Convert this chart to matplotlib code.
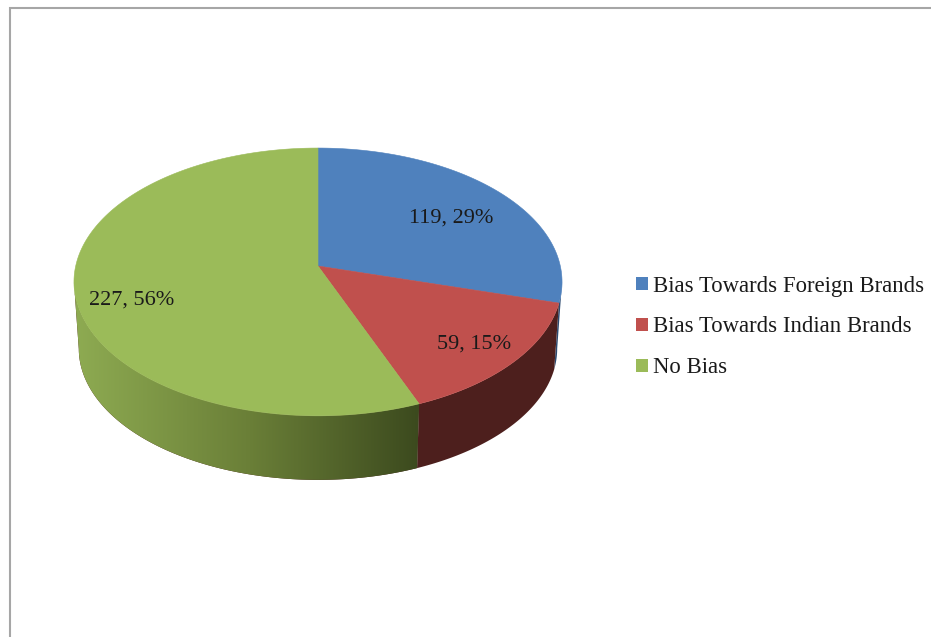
import numpy as np
import matplotlib
matplotlib.use('Agg')
import matplotlib.pyplot as plt
from matplotlib.colors import LinearSegmentedColormap
from matplotlib.patches import Patch, Polygon

labels = ['Bias Towards Foreign Brands', 'Bias Towards Indian Brands', 'No Bias']
values = [119, 59, 227]
top_colors = ['#4f81bd', '#c0504d', '#9bbb59']
side_colors = ['#2c4a70', '#4d1f1d', '#4d1f1d']
green_side = ['#8eab52', '#6b8038', '#3c4a1e']

plt.rcParams['font.family'] = ['Liberation Serif', 'DejaVu Serif']

total = sum(values)
# clockwise from 12 o'clock
edges = 2 * np.pi * np.cumsum([0] + values) / total


# perspective of a flat disc, angle measured clockwise from the top
def project(theta, cx=318, cy=266, a=242.3, b=132, k=0.119):
    x = np.sin(theta)
    y = -np.cos(theta)
    d = 1 - k * y
    return cx + a * x / d, cy + b * y / d


def arc(t0, t1, **kw):
    t = np.linspace(t0, t1, 200)
    return np.column_stack(project(t, **kw))


floor = dict(cy=333, a=237.5, b=129.4)

fig = plt.figure(figsize=(9.31, 6.37), dpi=100)
ax = fig.add_axes([0, 0, 1, 1])
ax.set_xlim(0, 931)
ax.set_ylim(637, 0)
ax.axis('off')

# frame, only top and left show
ax.plot([10, 10, 931], [637, 8, 8], color='#a6a6a6', lw=1.5, solid_joinstyle='miter')

# side walls, from the right silhouette round to the left one
ends = [(1.69, edges[1]), (edges[1], edges[2]), (edges[2], 4.59)]
for i, (t0, t1) in enumerate(ends):
    wall = np.vstack([arc(t0, t1), arc(t0, t1, **floor)[::-1]])
    patch = Polygon(wall, closed=True, fc=side_colors[i], ec='none', zorder=2)
    ax.add_patch(patch)
    if i == 2:
        cmap = LinearSegmentedColormap.from_list('side', green_side)
        im = ax.imshow(np.linspace(0, 1, 256)[None, :], cmap=cmap, aspect='auto',
                       extent=[74, 419, 480, 270], zorder=3)
        im.set_clip_path(patch)
ax.set_xlim(0, 931)
ax.set_ylim(637, 0)

# top face
for i in range(3):
    rim = arc(edges[i], edges[i + 1])
    face = np.vstack([[project(0.0, a=0, b=0)], rim])
    ax.add_patch(Polygon(face, closed=True, fc=top_colors[i], ec=top_colors[i], lw=0.4, zorder=4))

# data labels
label_pos = [(451, 218), (474, 344), (132, 300)]
for v, (x, y) in zip(values, label_pos):
    ax.text(x, y, f'{v}, {round(100 * v / total)}%', ha='center', va='center',
            fontsize=16, color='#1a1a1a', zorder=5)

handles = [Patch(fc=c, ec='none') for c in top_colors]
ax.legend(handles, labels, loc='center left', bbox_to_anchor=(636 / 931, 1 - 327 / 637),
          frameon=False, fontsize=16.4, handlelength=0.53, handleheight=0.53,
          handletextpad=0.22, labelspacing=0.87, labelcolor='#1a1a1a',
          borderpad=0, borderaxespad=0)

fig.savefig('out.png', dpi=100)
